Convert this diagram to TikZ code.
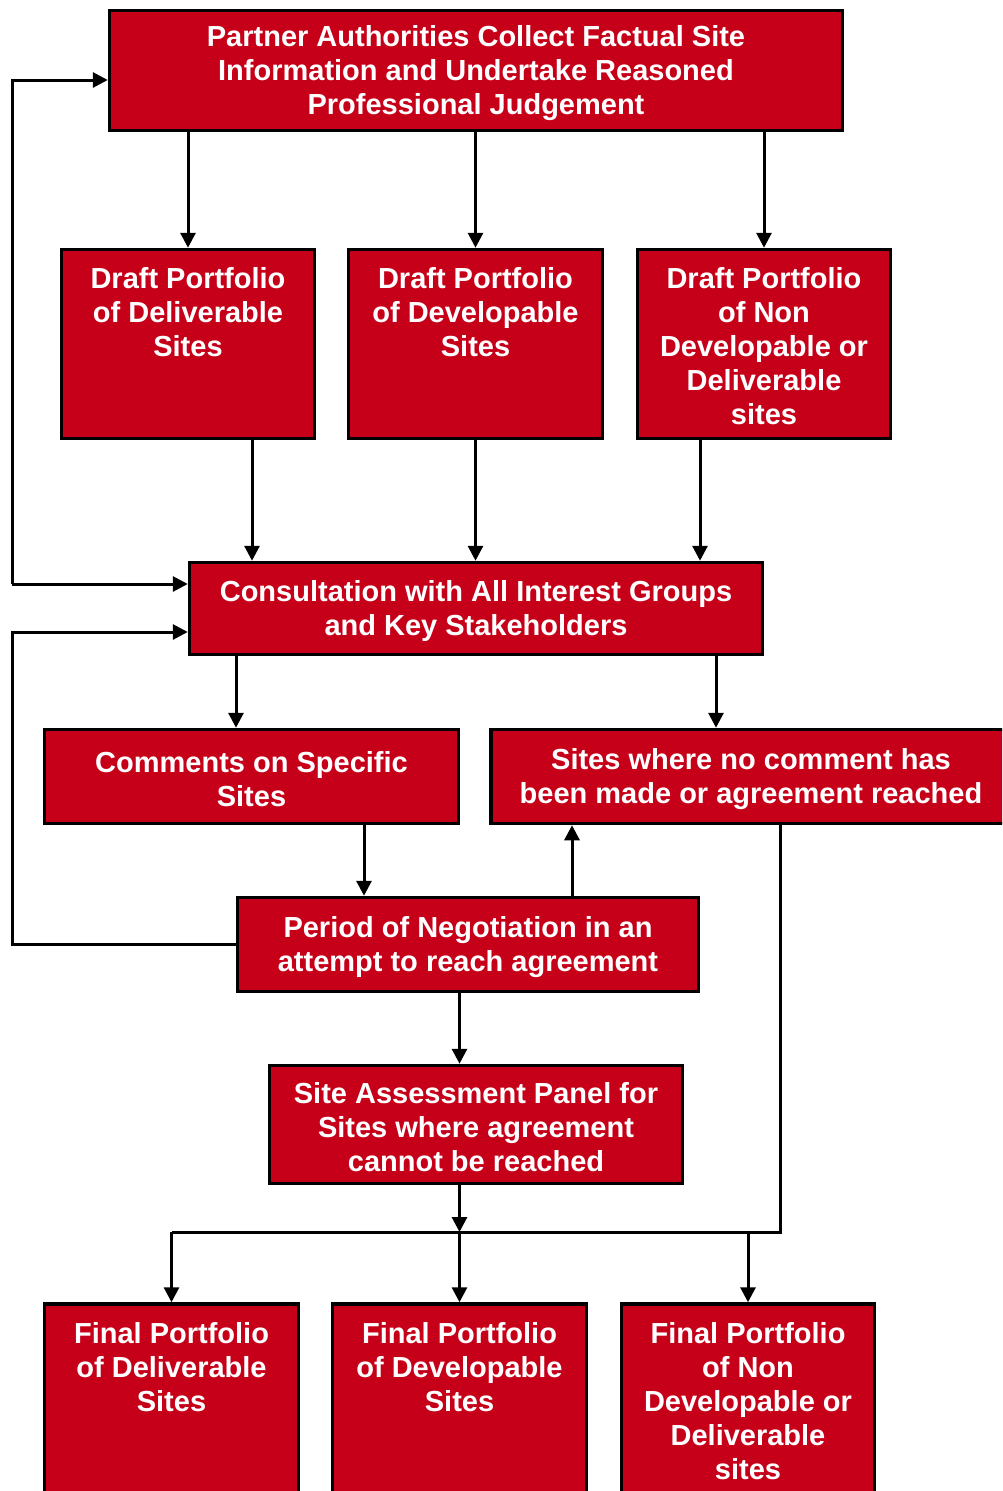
\documentclass[tikz,border=0pt]{standalone}
\usepackage{fontspec}
\setmainfont{Liberation Sans}
\usetikzlibrary{calc,arrows.meta}
\definecolor{boxred}{RGB}{198,0,24}
\newcommand{\fstrut}{\rule{0pt}{26pt}}

\begin{document}
\begin{tikzpicture}[x=1pt,y=-1pt,
	box/.style={draw,line width=3.5pt,fill=boxred,text=white,align=center,inner sep=0pt,
		font=\fontsize{29}{34}\selectfont\bfseries},
	lbl/.style={text=white,align=center,inner sep=0pt,font=\fontsize{29}{34}\selectfont\bfseries},
	con/.style={line width=3pt},
	arr/.style={con,-{Triangle[length=15pt,width=15pt]}}]
	\useasboundingbox (0,0) rectangle (1002,1491);
	\clip (0,0) rectangle (1002,1491);

	\node[box,minimum width=733pt,minimum height=120pt] (top) at (476,70.5) {\fstrut Partner Authorities Collect Factual Site\\Information and Undertake Reasoned\\Professional Judgement};

	\node[box,minimum width=253pt,minimum height=189pt] (d1) at (188,344) {};
	\node[box,minimum width=254pt,minimum height=189pt] (d2) at (475.5,344) {};
	\node[box,minimum width=253pt,minimum height=189pt] (d3) at (764,344) {};
	\node[lbl,anchor=north] (d1t) at ([yshift=-20pt]d1.north) {Draft Portfolio\\of Deliverable\\Sites};
	\node[lbl,anchor=north] (d2t) at ([yshift=-20pt]d2.north) {Draft Portfolio\\of Developable\\Sites};
	\node[lbl,anchor=north] (d3t) at ([yshift=-20pt]d3.north) {Draft Portfolio\\of Non\\Developable or\\Deliverable\\sites};

	\node[box,minimum width=573pt,minimum height=92pt] (cons) at (476,608.5) {\fstrut Consultation with All Interest Groups\\and Key Stakeholders};
	\node[box,minimum width=414pt,minimum height=94pt] (com) at (251.5,776.5) {\fstrut Comments on Specific\\Sites};
	\node[box,minimum width=520pt,minimum height=94pt] (nocom) at (751,776.5) {\fstrut Sites where no comment has\\been made or agreement reached};
	\node[box,minimum width=461pt,minimum height=94pt] (neg) at (468,944.5) {\fstrut Period of Negotiation in an\\attempt to reach agreement};
	\node[box,minimum width=413pt,minimum height=118pt] (panel) at (476,1124.5) {\fstrut Site Assessment Panel for\\Sites where agreement\\cannot be reached};

	\node[box,minimum width=254pt,minimum height=192pt] (f1) at (171.5,1400) {};
	\node[box,minimum width=254pt,minimum height=192pt] (f2) at (459.5,1400) {};
	\node[box,minimum width=253pt,minimum height=192pt] (f3) at (748,1400) {};
	\node[lbl,anchor=north] (f1t) at ([yshift=-20pt]f1.north) {Final Portfolio\\of Deliverable\\Sites};
	\node[lbl,anchor=north] (f2t) at ([yshift=-20pt]f2.north) {Final Portfolio\\of Developable\\Sites};
	\node[lbl,anchor=north] (f3t) at ([yshift=-20pt]f3.north) {Final Portfolio\\of Non\\Developable or\\Deliverable\\sites};

	% loops on the left
	\coordinate (lp1) at (12,80);
	\coordinate (lp2) at (12,584);
	\coordinate (lp3) at (12,632);
	\coordinate (lp4) at (12,944.5);
	% joins near the bottom
	\coordinate (jr) at (780,1232);
	\coordinate (jl) at (f1.north |- jr);

	\draw[arr] (d1.north |- top.south) -- (d1.north);
	\draw[arr] (d2.north |- top.south) -- (d2.north);
	\draw[arr] (d3.north |- top.south) -- (d3.north);

	\draw[arr] ([xshift=64pt]d1.south) -- ([xshift=64pt]d1.south |- cons.north);
	\draw[arr] (d2.south) -- (d2.south |- cons.north);
	\draw[arr] ([xshift=-64pt]d3.south) -- ([xshift=-64pt]d3.south |- cons.north);

	\draw[arr] (lp2) -- (lp1) -- (lp1 -| top.west);
	\draw[arr] (lp2) -- (lp2 -| cons.west);
	\draw[arr] (neg.west) -- (lp4) -- (lp3) -- (lp3 -| cons.west);

	\draw[arr] ([xshift=-240pt]cons.south) -- ([xshift=-240pt]cons.south |- com.north);
	\draw[arr] ([xshift=240pt]cons.south) -- ([xshift=240pt]cons.south |- nocom.north);
	\draw[arr] ([xshift=112.5pt]com.south) -- ([xshift=112.5pt]com.south |- neg.north);
	\draw[arr] ([xshift=104pt]neg.north) -- ([xshift=104pt]neg.north |- nocom.south);
	\draw[arr] (neg.south -| f2) -- (panel.north -| f2);

	\draw[arr] (panel.south -| f2) -- (f2 |- jr);
	\draw[con] (jr |- nocom.south) -- (jr) -- (jl);
	\draw[arr] (jl) -- (f1.north);
	\draw[arr] (f2 |- jr) -- (f2.north);
	\draw[arr] (f3 |- jr) -- (f3.north);
\end{tikzpicture}
\end{document}
